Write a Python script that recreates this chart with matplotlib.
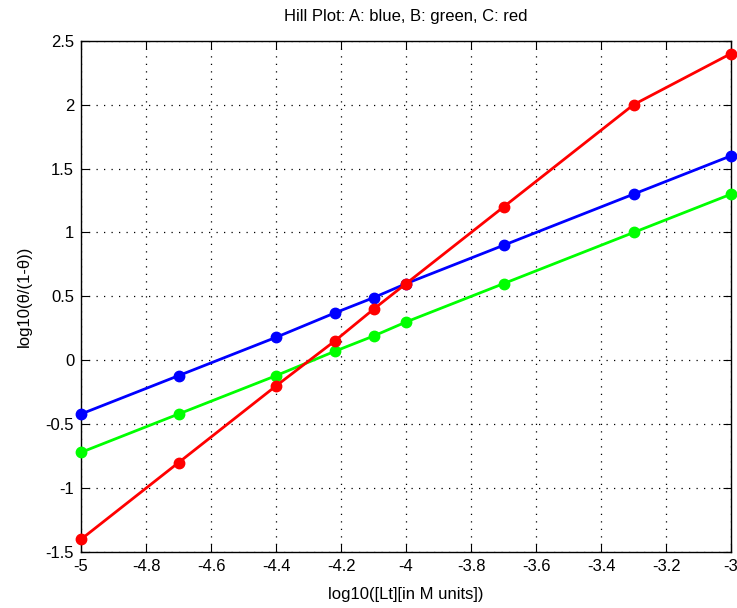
import matplotlib
matplotlib.use('Agg')
import matplotlib.pyplot as plt

# log10 of ligand concentration
logL = [-5, -4.7, -4.4, -4.22, -4.1, -4, -3.7, -3.3, -3]
hillA = [-0.42, -0.12, 0.18, 0.37, 0.49, 0.6, 0.9, 1.3, 1.6]
hillB = [-0.72, -0.42, -0.12, 0.07, 0.19, 0.3, 0.6, 1.0, 1.3]
hillC = [-1.4, -0.8, -0.2, 0.15, 0.4, 0.6, 1.2, 2.0, 2.4]

xticks = [-5, -4.8, -4.6, -4.4, -4.2, -4, -3.8, -3.6, -3.4, -3.2, -3]
yticks = [-1.5, -1, -0.5, 0, 0.5, 1, 1.5, 2, 2.5]

plt.rcParams['font.family'] = ['Liberation Sans', 'DejaVu Sans']
plt.rcParams['font.size'] = 12

fig = plt.figure(figsize=(7.37, 6.08), dpi=100)
ax = fig.add_axes([0.110, 0.092, 0.882, 0.841])

for y, c in [(hillA, '#0000ff'), (hillB, '#00ff00'), (hillC, '#ff0000')]:
    ax.plot(logL, y, '-o', color=c, lw=2, ms=7.5, clip_on=False, zorder=3)

ax.set_xlim(-5, -3)
ax.set_ylim(-1.5, 2.5)
ax.set_xticks(xticks)
ax.set_xticklabels(['%g' % v for v in xticks])
ax.set_yticks(yticks)
ax.set_yticklabels(['%g' % v for v in yticks])
ax.grid(True, color='black', linestyle=(0, (1, 5)), linewidth=0.9)
ax.tick_params(direction='in', length=6, top=True, right=True, labelsize=12, pad=5)
for s in ax.spines.values():
    s.set_linewidth(1)

ax.set_title('Hill Plot: A: blue, B: green, C: red', fontsize=12, pad=14)
ax.set_xlabel('log10([Lt][in M units])', fontsize=12, labelpad=9)
ax.set_ylabel('log10(θ/(1-θ))', fontsize=12, labelpad=10)

fig.savefig('out.png', dpi=100)
